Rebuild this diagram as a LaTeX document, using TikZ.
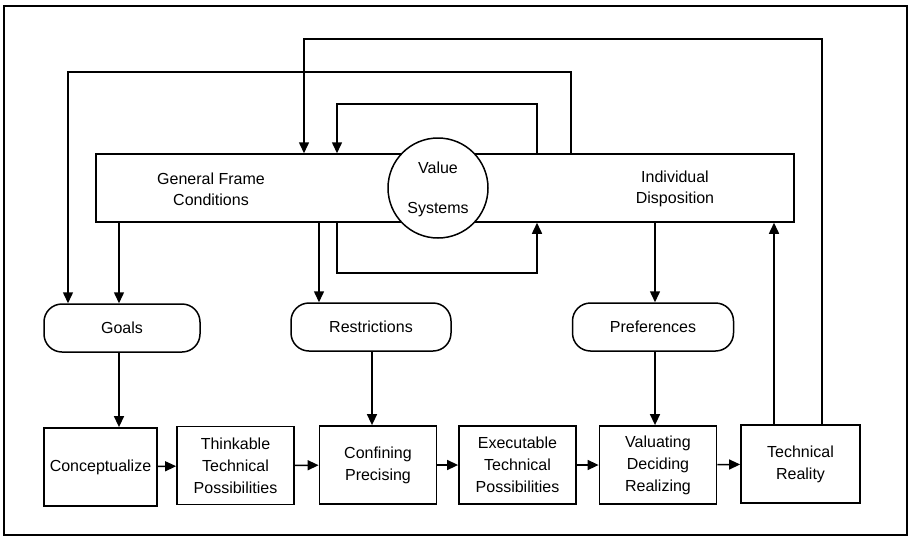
\documentclass[tikz,border=0pt]{standalone}
\usepackage{fontspec}
\setmainfont{Liberation Sans}
\usetikzlibrary{arrows.meta,calc}
\begin{document}
\begin{tikzpicture}[x=1pt,y=-1pt,
  line width=1.5pt,
  arr/.style={-{Triangle[length=11pt,width=10pt]}},
  lbl/.style={font=\fontsize{16}{21}\selectfont,align=center,inner sep=0pt},
  stepbox/.style={draw,line width=1.8pt,minimum width=117pt,minimum height=78pt,
    font=\fontsize{16}{22}\selectfont,align=center,inner sep=0pt},
  pill/.style={draw,rounded corners=18pt,minimum height=48pt,
    font=\fontsize{16}{20}\selectfont,inner sep=0pt}]
  \useasboundingbox (0,0) rectangle (912,541);
  % outer frame
  \draw (4,6) rectangle (907,535);

  % upper band with the value systems circle
  \node[draw,minimum width=698pt,minimum height=68pt,inner sep=0pt] (band) at (445,188) {};
  \node[lbl] (gfc) at (211,189) {General Frame\\Conditions};
  \node[lbl] (ind) at (675,189) {Individual\\Disposition};
  \node[draw,circle,fill=white,minimum size=100pt,inner sep=0pt] (vs) at (438,188) {};
  \node[lbl] (vsa) at (438,168) {Value};
  \node[lbl] (vsb) at (438,210) {Systems};

  % middle row
  \node[pill,minimum width=156pt] (goals) at (122,328) {Goals};
  \node[pill,minimum width=160pt] (restr) at (371,327) {Restrictions};
  \node[pill,minimum width=161pt] (pref) at (653,327) {Preferences};

  % process chain
  \node[stepbox,minimum width=113pt] (conc) at (100.5,467) {Conceptualize};
  \node[stepbox] (think) at (235.5,465.5) {Thinkable\\Technical\\Possibilities};
  \node[stepbox] (conf) at (378,465) {Confining\\Precising};
  \node[stepbox] (exec) at (517.5,465) {Executable\\Technical\\Possibilities};
  \node[stepbox] (valu) at (658,465) {Valuating\\Deciding\\Realizing};
  \node[stepbox,minimum width=119pt] (tech) at (800.5,464) {Technical\\Reality};

  % vertical guide positions
  \coordinate (xa) at (68,0);
  \coordinate (xb) at (119,0);
  \coordinate (xc) at (304,0);
  \coordinate (xd) at (319,0);
  \coordinate (xe) at (337,0);
  \coordinate (xf) at (372,0);
  \coordinate (xg) at (537,0);
  \coordinate (xh) at (571,0);
  \coordinate (xi) at (655,0);
  \coordinate (xj) at (774,0);
  \coordinate (xk) at (822,0);

  % band to middle row
  \draw[arr] (band.south -| xb) -- (goals.north -| xb);
  \draw[arr] (band.south -| xd) -- (restr.north -| xd);
  \draw[arr] (band.south -| xi) -- (pref.north -| xi);

  % middle row to process chain
  \draw[arr] (goals.south -| xb) -- (conc.north -| xb);
  \draw[arr] (restr.south -| xf) -- (conf.north -| xf);
  \draw[arr] (pref.south -| xi) -- (valu.north -| xi);

  % feedback loops
  \draw[arr] (band.north -| xh) |- (68,72) -- (goals.north -| xa);
  \draw[arr] (tech.north -| xk) |- (304,39) -- (band.north -| xc);
  \draw[arr] (band.north -| xg) |- (337,104) -- (band.north -| xe);
  \draw[arr] (band.south -| xe) |- (537,273) -- (band.south -| xg);
  \draw[arr] (tech.north -| xj) -- (band.south -| xj);

  % chain links
  \draw[arr] (conc) -- (think);
  \draw[arr] (think) -- (conf);
  \draw[arr] (conf) -- (exec);
  \draw[arr] (exec) -- (valu);
  \draw[arr] (valu) -- (tech);
\end{tikzpicture}
\end{document}
